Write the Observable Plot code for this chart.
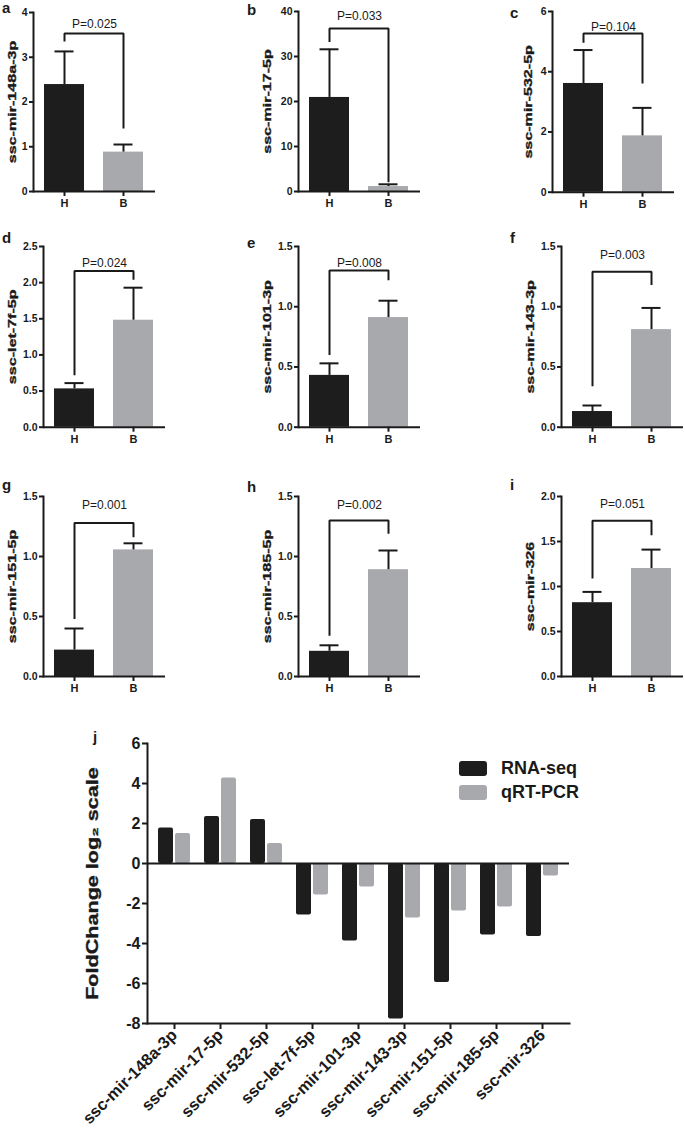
<!DOCTYPE html>
<html>
<head>
<meta charset="utf-8">
<script src="https://cdn.jsdelivr.net/npm/d3@7"></script>
<script src="https://cdn.jsdelivr.net/npm/@observablehq/plot@0.6"></script>
<style>
  body { margin: 0; background: #fff; }
  #fig { position: relative; width: 685px; height: 1130px; overflow: hidden; background: #fff;
         font-family: "Liberation Sans", Arial, Helvetica, sans-serif; color: #1a1a1a; }
  .letter { position: absolute; font-weight: bold; font-size: 15px; line-height: 1; }
  .legrow { position: absolute; display: flex; align-items: center; font-weight: bold; font-size: 18px; line-height: 1; }
  .sw { width: 28px; height: 15px; border-radius: 3px; margin-right: 14px; }
</style>
</head>
<body>
<div id="fig"></div>
<script>
// ---------- data ----------
const groups = ["H", "B"];
const mirnas = ["ssc-mir-148a-3p", "ssc-mir-17-5p", "ssc-mir-532-5p", "ssc-let-7f-5p", "ssc-mir-101-3p",
                "ssc-mir-143-3p", "ssc-mir-151-5p", "ssc-mir-185-5p", "ssc-mir-326"];
const panelLetters = ["a", "b", "c", "d", "e", "f", "g", "h", "i"];
const hMean = [2.39, 20.9, 3.61, 0.53, 0.43, 0.13, 0.22, 0.21, 0.82];
const hUpper = [3.13, 31.6, 4.72, 0.61, 0.53, 0.18, 0.40, 0.26, 0.94];
const bMean = [0.88, 1.1, 1.87, 1.48, 0.91, 0.81, 1.055, 0.89, 1.20];
const bUpper = [1.05, 1.6, 2.80, 1.93, 1.05, 0.99, 1.11, 1.05, 1.41];
const pLabels = ["P=0.025", "P=0.033", "P=0.104", "P=0.024", "P=0.008", "P=0.003", "P=0.001", "P=0.002", "P=0.051"];
const bracketTop = [3.53, 36.2, 5.27, 2.16, 1.30, 1.29, 1.28, 1.30, 1.73];
const bracketLegH = [3.35, 33.2, 4.96, 0.72, 0.60, 0.34, 0.48, 0.34, 1.09];
const bracketLegB = [1.41, 2.07, 3.61, 2.04, 1.22, 1.18, 1.16, 1.19, 1.57];
const pLabelY = [3.73, 38.9, 5.49, 2.27, 1.36, 1.43, 1.43, 1.43, 1.91];
const yTicks = [
  [0, 1, 2, 3, 4], [0, 10, 20, 30, 40], [0, 2, 4, 6],
  [0, 0.5, 1, 1.5, 2, 2.5], [0, 0.5, 1, 1.5], [0, 0.5, 1, 1.5],
  [0, 0.5, 1, 1.5], [0, 0.5, 1, 1.5], [0, 0.5, 1, 1.5, 2]
];
const yDecimals = [0, 0, 0, 1, 1, 1, 1, 1, 1];

const seriesNames = ["RNA-seq", "qRT-PCR"];
const rnaSeq = [1.77, 2.35, 2.2, -2.58, -3.87, -7.78, -5.95, -3.57, -3.65];
const qrtPcr = [1.5, 4.27, 1.0, -1.57, -1.17, -2.73, -2.38, -2.18, -0.63];
const jTicks = [-8, -6, -4, -2, 0, 2, 4, 6];
const jLabel = "FoldChange log\u2082 scale";

// ---------- layout / style ----------
const FONT = '"Liberation Sans", Arial, Helvetica, sans-serif';
const INK = "#1a1a1a", BLACK = "#1d1d1d", GRAY = "#a8a9ac";
const panelLayout = [ // y-axis x, top of domain, zero line, y-label offset
  {ax: 33, top: 12, zero: 191, lab: 21},
  {ax: 298, top: 11, zero: 191, lab: 31},
  {ax: 552, top: 11, zero: 191.7, lab: 24},
  {ax: 43, top: 246, zero: 426.7, lab: 31},
  {ax: 298, top: 246, zero: 426.7, lab: 31},
  {ax: 561, top: 246, zero: 426.7, lab: 31},
  {ax: 43, top: 495.7, zero: 675.7, lab: 31},
  {ax: 298, top: 495.7, zero: 675.7, lab: 31},
  {ax: 561, top: 495.7, zero: 675.7, lab: 31}
];
const letterPos = [[2, 0], [247, 2], [510, 5], [2, 230], [247, 235], [510, 230], [2, 477], [247, 479], [510, 477]];

const fig = document.getElementById("fig");
function place(el, left, top) {
  el.style.position = "absolute";
  el.style.left = left + "px";
  el.style.top = top + "px";
  fig.appendChild(el);
}
function stretchRotated(svg, k) {
  svg.querySelectorAll("text").forEach(t => {
    const tr = t.getAttribute("transform");
    if (tr && tr.includes("rotate(-90)")) {
      t.setAttribute("transform", tr + ` scale(${k},1)`);
      t.setAttribute("stroke", INK);
      t.setAttribute("stroke-width", "0.35");
      t.setAttribute("opacity", "0.999");
    }
  });
}

// ---------- small panels ----------
panelLayout.forEach((L, i) => {
  const mL = 40, mT = 14, mB = 28, mR = 10;
  const H = mT + (L.zero - L.top) + mB;
  const W = mL + 122 + mR;
  const bars = [
    {g: "H", v: hMean[i], e: hUpper[i]},
    {g: "B", v: bMean[i], e: bUpper[i]}
  ];
  const bracket = [
    {g: "H", y: bracketLegH[i]}, {g: "H", y: bracketTop[i]},
    {g: "B", y: bracketTop[i]}, {g: "B", y: bracketLegB[i]}
  ];
  const fmt = d3.format(yDecimals[i] ? ".1f" : "d");
  const svg = Plot.plot({
    width: W, height: H, marginLeft: mL, marginRight: mR, marginTop: mT, marginBottom: mB,
    style: {background: "transparent", overflow: "visible", fontFamily: FONT, fontSize: "11px", fontWeight: "bold", color: INK},
    x: {domain: groups, paddingInner: 0.317, paddingOuter: 0.183},
    y: {domain: [0, yTicks[i][yTicks[i].length - 1]]},
    color: {domain: groups, range: [BLACK, GRAY]},
    marks: [
      Plot.barY(bars, {x: "g", y: "v", fill: "g"}),
      Plot.ruleX(bars, {x: "g", y1: "v", y2: "e", stroke: INK, strokeWidth: 2}),
      Plot.tickY(bars, {x: "g", y: "e", stroke: INK, strokeWidth: 2, insetLeft: 10.5, insetRight: 10.5}),
      Plot.line(bracket, {x: "g", y: "y", stroke: INK, strokeWidth: 2, strokeLinecap: "butt", strokeLinejoin: "miter"}),
      Plot.text([pLabels[i]], {y: [pLabelY[i]], text: d => d, fontSize: 12, fontWeight: "normal", fill: INK}),
      Plot.text([mirnas[i]], {text: d => d, frameAnchor: "left", rotate: -90, dx: -L.lab,
        textAnchor: "middle", lineAnchor: "middle", fontSize: 11.5, fontWeight: "bold", fill: INK}),
      Plot.frame({anchor: "left", stroke: INK, strokeWidth: 2}),
      Plot.ruleY([0], {stroke: INK, strokeWidth: 2}),
      Plot.axisY({ticks: yTicks[i], tickFormat: fmt, tickSize: 4, tickPadding: 2, strokeWidth: 2, label: null, fontWeight: "bold", fontSize: 10.5}),
      Plot.axisX({tickSize: 5, tickPadding: 3, strokeWidth: 2, label: null, fontWeight: "bold", fontSize: 11})
    ]
  });
  stretchRotated(svg, 1.4);
  place(svg, L.ax - mL, L.top - mT);
  const lt = document.createElement("div");
  lt.className = "letter";
  lt.textContent = panelLetters[i];
  place(lt, letterPos[i][0], letterPos[i][1]);
});

// ---------- panel j ----------
{
  const mL = 71, mT = 20, mB = 107, mR = 20;
  const jsvg = Plot.plot({
    width: mL + 422 + mR, height: mT + 280 + mB,
    marginLeft: mL, marginRight: mR, marginTop: mT, marginBottom: mB,
    style: {background: "transparent", overflow: "visible", fontFamily: FONT, fontSize: "16px", fontWeight: "bold", color: INK},
    x: {domain: mirnas, paddingInner: 0.3, paddingOuter: 0.19},
    y: {domain: [jTicks[0], jTicks[jTicks.length - 1]]},
    marks: [
      Plot.barY(mirnas, {x: d => d, y: (d, k) => rnaSeq[k], fill: BLACK, insetRight: 17, rx: 2}),
      Plot.barY(mirnas, {x: d => d, y: (d, k) => qrtPcr[k], fill: GRAY, insetLeft: 17, rx: 2}),
      Plot.ruleY([0], {stroke: INK, strokeWidth: 2}),
      Plot.frame({anchor: "left", stroke: INK, strokeWidth: 2}),
      Plot.frame({anchor: "bottom", stroke: INK, strokeWidth: 2}),
      Plot.text([jLabel], {text: d => d, frameAnchor: "left", rotate: -90, dx: -55,
        textAnchor: "middle", lineAnchor: "middle", fontSize: 16, fontWeight: "bold", fill: INK}),
      Plot.axisY({ticks: jTicks, tickFormat: d => String(d), tickSize: 5, tickPadding: 2, strokeWidth: 2, label: null, fontSize: 16, fontWeight: "bold"}),
      Plot.axisX({tickRotate: -45, tickSize: 6, tickPadding: 3, strokeWidth: 2, label: null, fontSize: 16.5, fontWeight: "bold"})
    ]
  });
  stretchRotated(jsvg, 1.35);
  place(jsvg, 147 - mL, 743 - mT);

  const jl = document.createElement("div");
  jl.className = "letter";
  jl.textContent = "j";
  place(jl, 93, 729);

  // legend
  const legColors = [BLACK, GRAY];
  seriesNames.forEach((name, k) => {
    const row = document.createElement("div");
    row.className = "legrow";
    const sw = document.createElement("div");
    sw.className = "sw";
    sw.style.background = legColors[k];
    const tx = document.createElement("span");
    tx.textContent = name;
    row.appendChild(sw);
    row.appendChild(tx);
    place(row, 459, 759 + k * 24);
  });
}
</script>
</body>
</html>
